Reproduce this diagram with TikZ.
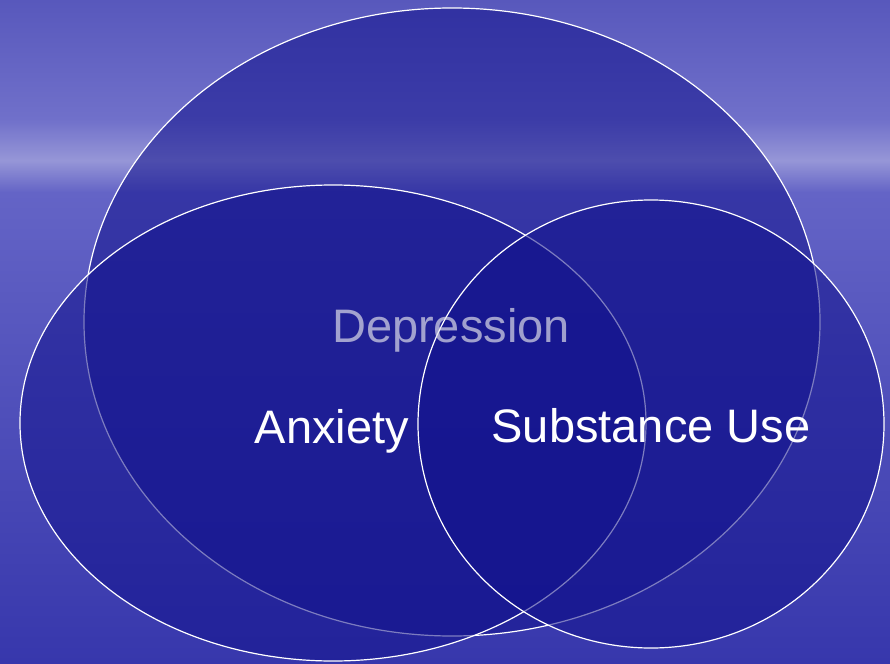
\documentclass[tikz,border=0pt]{standalone}
\usepackage{fontspec}
\setmainfont{Liberation Sans}
\usepackage{tikz}
\usetikzlibrary{positioning}

\definecolor{skytop}{RGB}{88,88,188}
\definecolor{skyhigh}{RGB}{112,112,202}
\definecolor{skyband}{RGB}{150,150,215}
\definecolor{skylow}{RGB}{100,100,198}
\definecolor{skybot}{RGB}{55,55,172}
\definecolor{vennblue}{RGB}{18,18,140}
\definecolor{deptext}{RGB}{225,225,235}

\pgfdeclareverticalshading{sky}{100bp}{color(0bp)=(skybot); color(25bp)=(skybot);
    color(60.5bp)=(skylow); color(62.9bp)=(skyband); color(66bp)=(skyhigh);
    color(75bp)=(skytop); color(100bp)=(skytop)}

\begin{document}
\begin{tikzpicture}[x=1pt,y=-1pt,
    venn/.style={draw=white, line width=1.2pt, fill=vennblue, fill opacity=0.55},
    lbl/.style={text=white, font=\fontsize{47}{50}\selectfont, inner sep=0pt, anchor=base}]
    \shade[shading=sky] (0,0) rectangle (890,663);
    \useasboundingbox (0,0) rectangle (890,663);

    % depression sits underneath
    \draw[venn] (452,322) ellipse [x radius=368, y radius=314];
    \draw[venn] (333,423) ellipse [x radius=313, y radius=238];
    \draw[venn] (651,424) ellipse [x radius=233, y radius=224];

    \node[lbl, text=deptext, text opacity=0.68] (dep) at (451,342) {Depression};
    \node[lbl] (anx) at (332,443) {Anxiety};
    \node[lbl] (sub) at (651,442) {Substance Use};
\end{tikzpicture}
\end{document}
